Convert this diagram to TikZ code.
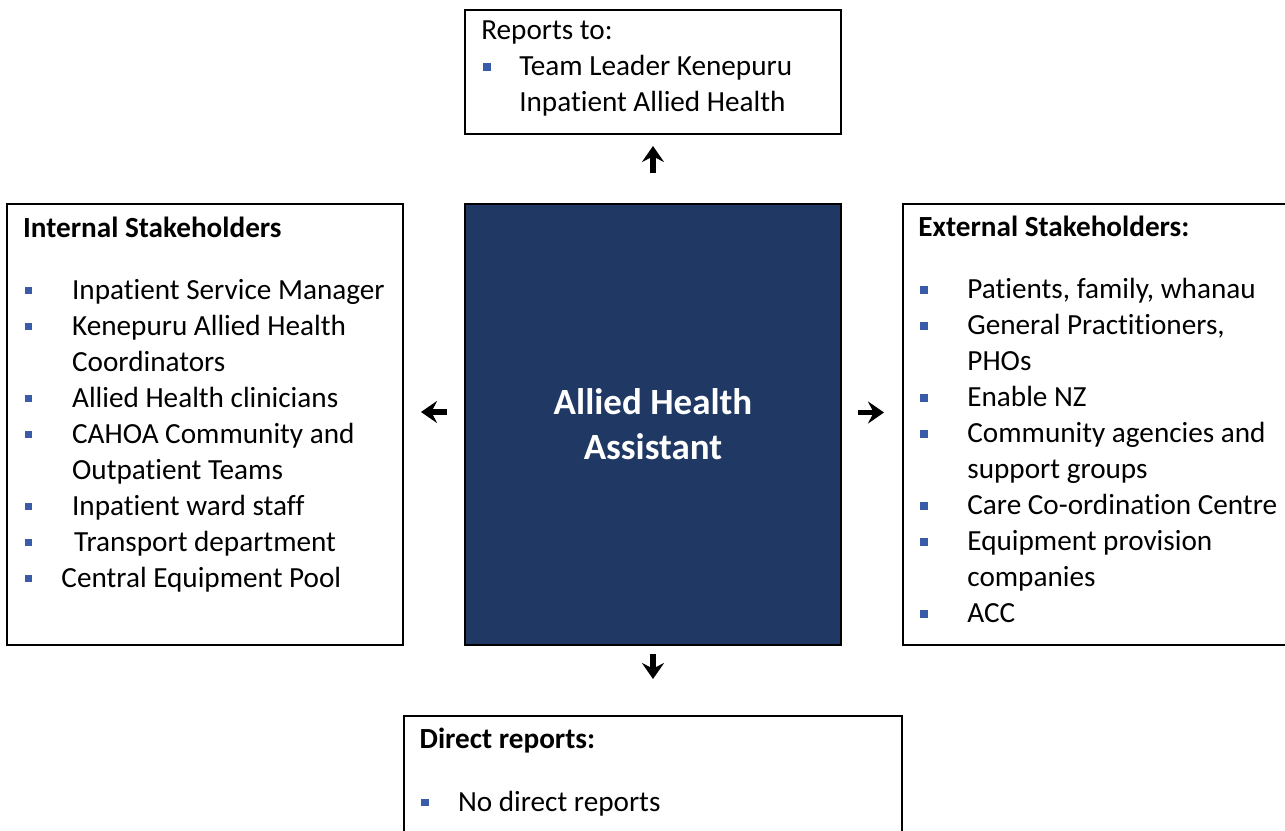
\documentclass[tikz,border=0pt]{standalone}
\usepackage{fontspec}
\setmainfont{Carlito}[Ligatures=NoCommon]
\usetikzlibrary{positioning}
\usetikzlibrary{arrows.meta}
\definecolor{navy}{HTML}{203864}
\definecolor{bulblue}{HTML}{3A5CA8}
\tikzstyle{box} = [draw, line width=1pt, rectangle, inner sep=0pt]
\tikzstyle{mainbox} = [box, fill=navy, text=white, font=\bfseries\fontsize{18.5}{22.5}\selectfont, align=center]
\tikzstyle{txt} = [inner sep=0pt, align=left, font=\fontsize{14.6}{18}\selectfont]
\tikzstyle{bigarr} = [line width=2.6pt, -{Stealth[length=8pt,width=11pt,inset=2.8pt]}]
\newcommand{\sqbul}{\textcolor{bulblue}{\rule[2.5pt]{3.8pt}{3.8pt}}}
\newcommand{\bitem}[2][24.5pt]{\makebox[#1][l]{\hspace{0.85pt}\sqbul}#2}
\newcommand{\ctd}[2][24.5pt]{\hspace*{#1}#2}

\begin{document}
\begin{tikzpicture}[x=0.5pt, y=-0.5pt]
  \path[use as bounding box, clip] (0,0) rectangle (1285,830);

  \node[mainbox, minimum width=188pt, minimum height=220.5pt] (aha) at (653,424.5) {Allied Health\\Assistant};
  \node[box, minimum width=188pt, minimum height=62pt, above=34pt of aha] (rep) {};
  \node[box, minimum width=198pt, minimum height=220.5pt, left=30pt of aha] (int) {};
  \node[box, minimum width=194pt, minimum height=220.5pt, right=30pt of aha] (ext) {};
  \node[box, minimum width=249pt, minimum height=63pt, below=34.5pt of aha] (drp) {};

  \node[txt, below right=2.6pt and 8.45pt of rep.north west] (rep-t) {%
    \strut Reports to:\\
    \bitem[19pt]{Team Leader Kenepuru}\\
    \ctd[19pt]{Inpatient Allied Health}};

  \node[txt, below right=4.2pt and 8.35pt of int.north west] (int-t) {%
    \strut\textbf{Internal Stakeholders}\\[13.15pt]
    \bitem{Inpatient Service Manager}\\
    \bitem{Kenepuru Allied Health}\\
    \ctd{Coordinators}\\
    \bitem{Allied Health clinicians}\\
    \bitem{CAHOA Community and}\\
    \ctd{Outpatient Teams}\\
    \bitem{Inpatient ward staff}\\
    \bitem[25.5pt]{Transport department}\\
    \bitem[19.2pt]{Central Equipment Pool}};

  \node[txt, below right=4pt and 8pt of ext.north west] (ext-t) {%
    \strut\textbf{External Stakeholders:}\\[13pt]
    \bitem{Patients, family, whanau}\\
    \bitem{General Practitioners,}\\
    \ctd{PHOs}\\
    \bitem{Enable NZ}\\
    \bitem{Community agencies and}\\
    \ctd{support groups}\\
    \bitem{Care Co-ordination Centre}\\
    \bitem{Equipment provision}\\
    \ctd{companies}\\
    \bitem{ACC}};

  \node[txt, below right=4pt and 8.1pt of drp.north west] (drp-t) {%
    \strut\textbf{Direct reports:}\\[13.3pt]
    \bitem[19.2pt]{No direct reports}};

  \coordinate[above=15pt of aha.north] (up-a);
  \coordinate[above=13.5pt of up-a] (up-b);
  \coordinate[below=4pt of aha.south] (dn-a);
  \coordinate[below=12.5pt of dn-a] (dn-b);
  \coordinate[left=8.5pt of aha.west, yshift=6.25pt] (lf-a);
  \coordinate[left=13pt of lf-a] (lf-b);
  \coordinate[right=8pt of aha.east, yshift=6pt] (rt-a);
  \coordinate[right=13pt of rt-a] (rt-b);

  \draw[bigarr] (up-a) -- (up-b);
  \draw[bigarr] (dn-a) -- (dn-b);
  \draw[bigarr] (lf-a) -- (lf-b);
  \draw[bigarr] (rt-a) -- (rt-b);
\end{tikzpicture}
\end{document}
